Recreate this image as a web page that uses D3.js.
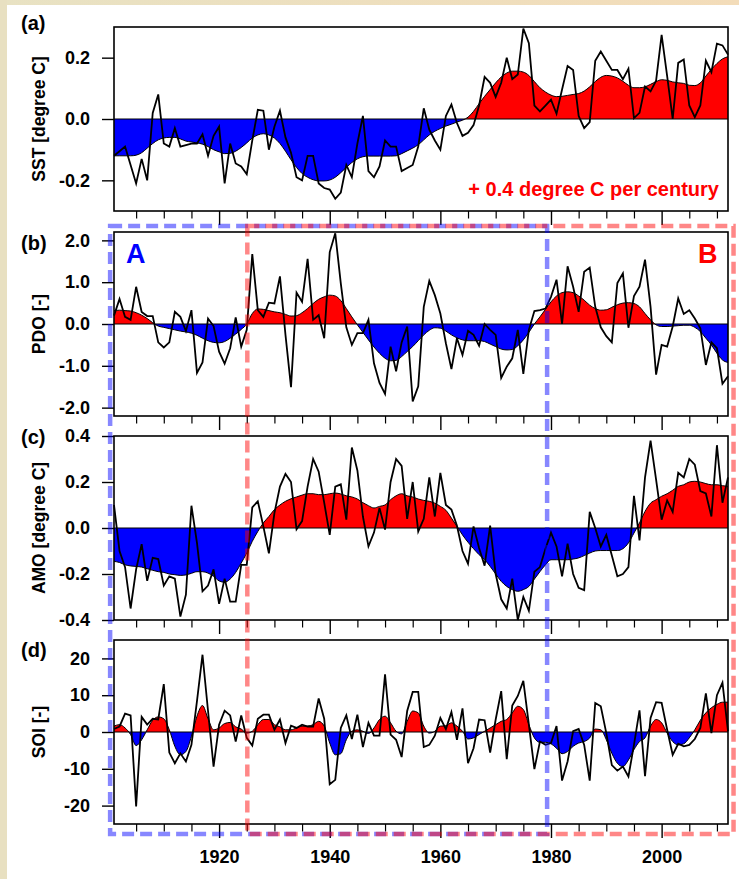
<!DOCTYPE html>
<html>
<head>
<meta charset="utf-8">
<script src="https://cdn.jsdelivr.net/npm/d3@7"></script>
<style>
  body { margin: 0; background: #fff; }
  svg text { font-family: "Liberation Sans", Arial, Helvetica, sans-serif; font-weight: bold; }
</style>
</head>
<body>
<svg id="chart" width="739" height="879"></svg>
<script>
var years = d3.range(1901, 2013);

var sstRaw = [-0.12,-0.105,-0.09,-0.15,-0.21,-0.13,-0.20,0.02,0.08,-0.08,
  -0.09,-0.03,-0.09,-0.085,-0.08,-0.08,-0.05,-0.12,-0.055,-0.025,
  -0.21,-0.08,-0.145,-0.155,-0.18,-0.07,0.03,0.027,-0.10,-0.025,
  0.027,-0.06,-0.11,-0.19,-0.20,-0.12,-0.12,-0.21,-0.225,-0.23,
  -0.26,-0.24,-0.15,-0.19,-0.08,0.01,-0.17,-0.19,-0.155,-0.07,
  -0.09,-0.09,-0.17,-0.16,-0.15,-0.09,0.035,-0.035,-0.07,-0.10,
  0.01,0.047,-0.013,-0.055,-0.045,-0.02,0.044,0.137,0.118,0.072,
  0.118,0.2,0.13,0.145,0.295,0.247,0.044,0.025,0.044,0.063,
  0.017,0.096,0.173,0.16,0.01,-0.03,-0.01,0.19,0.22,0.19,
  0.16,0.16,0.13,0.164,0.003,0.02,0.106,0.09,0.125,0.274,
  0.14,0.0,0.183,0.194,0.044,0.006,0.044,0.19,0.153,0.246,
  0.24,0.21];
var sstSmooth = [-0.12,-0.12,-0.12,-0.12,-0.118,-0.11,-0.095,-0.08,-0.068,-0.062,
  -0.06,-0.06,-0.065,-0.072,-0.075,-0.078,-0.082,-0.09,-0.1,-0.107,
  -0.113,-0.112,-0.105,-0.093,-0.078,-0.062,-0.052,-0.048,-0.052,-0.062,
  -0.08,-0.105,-0.133,-0.158,-0.178,-0.19,-0.198,-0.202,-0.202,-0.199,
  -0.19,-0.175,-0.158,-0.142,-0.13,-0.123,-0.121,-0.121,-0.121,-0.121,
  -0.121,-0.12,-0.113,-0.104,-0.095,-0.084,-0.068,-0.052,-0.04,-0.031,
  -0.023,-0.017,-0.01,-0.004,0.006,0.025,0.05,0.074,0.096,0.118,
  0.137,0.15,0.156,0.156,0.153,0.142,0.122,0.102,0.088,0.078,
  0.073,0.074,0.077,0.08,0.083,0.091,0.105,0.122,0.136,0.142,
  0.14,0.134,0.123,0.11,0.102,0.102,0.105,0.113,0.122,0.128,
  0.126,0.121,0.118,0.116,0.11,0.109,0.118,0.14,0.162,0.181,
  0.196,0.203];

var pdoRaw = [0.2,0.6,0.17,0.1,0.89,0.29,0.19,0.19,-0.44,-0.56,
  -0.44,0.29,0.17,-0.17,0.33,-1.17,-0.92,0.13,-0.05,-0.66,
  -0.95,-0.58,0.16,-0.54,-0.14,1.67,0.33,0.17,0.51,0.49,
  1.14,-0.26,-1.51,0.75,0.53,1.56,0.1,0.21,-0.34,1.72,
  2.17,0.97,-0.08,-0.5,-0.22,-0.22,0.1,-0.94,-1.41,-1.67,
  -0.54,-1.13,-0.44,-0.06,-1.85,-1.49,0.41,1.03,0.69,0.25,
  -0.46,-1.08,-0.34,-0.74,-0.16,-0.26,-0.52,0.0,-0.14,-0.26,
  -1.29,-1.02,-0.82,-0.14,-1.19,-0.14,0.31,0.33,0.37,0.65,
  1.06,0.0,1.38,0.89,0.29,1.25,1.35,0.41,-0.08,-0.29,
  -0.44,0.98,1.21,-0.09,0.67,0.89,1.54,0.41,-1.21,-0.5,
  -0.54,-0.06,0.61,0.24,0.33,0.13,-0.1,-0.98,-0.44,-0.58,
  -1.43,-1.25];
var pdoSmooth = [0.32,0.33,0.32,0.31,0.27,0.21,0.13,0.03,-0.05,-0.08,
  -0.11,-0.14,-0.17,-0.19,-0.22,-0.27,-0.34,-0.4,-0.44,-0.45,
  -0.42,-0.34,-0.24,-0.13,0.0,0.25,0.36,0.35,0.32,0.29,
  0.27,0.23,0.19,0.2,0.27,0.37,0.49,0.59,0.65,0.69,
  0.67,0.56,0.37,0.17,-0.02,-0.2,-0.38,-0.55,-0.7,-0.82,
  -0.88,-0.87,-0.78,-0.66,-0.54,-0.4,-0.26,-0.15,-0.09,-0.1,
  -0.17,-0.26,-0.33,-0.38,-0.4,-0.4,-0.4,-0.42,-0.48,-0.54,
  -0.6,-0.62,-0.61,-0.52,-0.38,-0.2,0.0,0.17,0.35,0.53,
  0.67,0.75,0.77,0.75,0.67,0.57,0.45,0.37,0.33,0.34,
  0.4,0.46,0.5,0.51,0.49,0.41,0.25,0.1,-0.02,-0.06,
  -0.06,-0.05,-0.04,-0.03,-0.03,-0.08,-0.18,-0.34,-0.5,-0.7,
  -0.86,-0.92];

var amoRaw = [0.1,-0.1,-0.17,-0.35,-0.18,-0.07,-0.23,-0.13,-0.135,-0.25,
  -0.21,-0.22,-0.385,-0.29,0.097,-0.065,-0.275,-0.25,-0.18,-0.33,
  -0.22,-0.32,-0.32,-0.16,-0.16,0.09,0.116,0.007,-0.11,0.065,
  0.18,0.235,0.2,-0.005,0.03,0.18,0.3,0.245,0.11,-0.03,
  0.18,0.19,0.036,0.35,0.25,0.05,-0.08,-0.02,0.087,-0.007,
  0.2,0.3,0.27,0.04,0.2,-0.015,0.04,0.22,0.05,0.24,
  0.1,0.08,0.01,-0.1,-0.155,0.007,-0.087,-0.164,0.01,-0.2,
  -0.31,-0.35,-0.22,-0.4,-0.3,-0.36,-0.19,-0.17,-0.09,-0.02,
  -0.08,-0.21,-0.068,-0.2,-0.26,-0.27,0.07,0.0,-0.08,-0.03,
  -0.12,-0.21,-0.2,-0.17,0.14,-0.054,0.22,0.38,0.21,0.036,
  0.12,0.07,0.24,0.22,0.3,0.275,0.16,0.15,0.05,0.36,
  0.11,0.22];
var amoSmooth = [-0.145,-0.15,-0.16,-0.165,-0.167,-0.17,-0.177,-0.184,-0.19,-0.193,
  -0.2,-0.203,-0.206,-0.204,-0.197,-0.19,-0.19,-0.196,-0.21,-0.23,
  -0.236,-0.222,-0.193,-0.152,-0.109,-0.058,-0.015,0.022,0.05,0.08,
  0.1,0.116,0.127,0.135,0.143,0.149,0.149,0.145,0.145,0.149,
  0.152,0.148,0.14,0.135,0.126,0.11,0.097,0.087,0.094,0.1,
  0.123,0.14,0.149,0.14,0.135,0.126,0.12,0.116,0.108,0.094,
  0.077,0.043,0.007,-0.03,-0.062,-0.09,-0.116,-0.138,-0.167,-0.2,
  -0.232,-0.254,-0.268,-0.275,-0.268,-0.254,-0.222,-0.19,-0.16,-0.138,
  -0.138,-0.138,-0.138,-0.135,-0.13,-0.12,-0.109,-0.1,-0.098,-0.098,
  -0.098,-0.098,-0.09,-0.065,-0.022,0.022,0.072,0.108,0.123,0.138,
  0.149,0.164,0.181,0.188,0.2,0.203,0.2,0.193,0.188,0.188,
  0.184,0.181];

var soiRaw = [0.8,1.5,5,4.5,-20.2,4.1,2,3.6,3.4,13,
  -5.6,-8.5,-5.8,-8,-3.5,8.4,21,5.7,-9.4,2,
  5.8,4.5,-2.6,4.5,-1.6,-3.7,3.6,4.7,4.7,0.6,
  3.4,-3,1.7,1.1,2,1.5,1.5,9.1,3.6,-14.2,
  -13,1.1,4.5,-1.9,4.7,-4.1,2.5,-1,-1,15.7,
  -0.7,-2.1,-6.8,5.7,10.9,10.9,-4.1,-3.5,-1,3.8,
  0.8,5.4,-2.1,6.4,-8.5,-4.4,3.4,3.2,-5.6,3.4,
  11.1,-7.4,7.2,9.8,13.9,2,-10.1,-2.6,-3.5,-3,
  1.6,-13.2,-8,0.2,0.8,-3.5,-13.2,7.9,7,-0.3,
  -9,-10.5,-9.4,-12.1,-3.5,5.9,-12,3.8,8.1,7.9,
  0.6,-6.2,-3.2,-3.9,-3.5,-1.9,1.1,10.5,-0.3,10,
  13.4,0.2];
var soiSmooth = [1.6,2,1.1,-0.7,-3.7,-2.1,0.6,3.2,4.1,3.6,
  0.6,-3.9,-6.2,-5.3,-1.2,4.3,7.2,3.6,0.6,1.1,
  2.3,2.6,1.4,0.8,-0.3,0.2,2,3.4,3.4,2,
  1.4,0.6,0.6,1.1,1.6,1.6,2,2.9,1.6,-3,
  -6.2,-5.9,-2.1,0.2,0.6,0.2,-0.4,1.1,3.4,4.3,
  2.5,0.2,-0.5,2.9,5.7,5.2,1.6,-0.3,0.2,1.6,
  1.7,2.5,1.6,0.2,-1.9,-1.6,-0.7,0.2,1.1,2,
  2.9,3.4,5.2,7,6.1,2,-1.6,-2.8,-2.8,-3.2,
  -4.4,-5.9,-5.3,-3.9,-3,-2.6,-1.6,0.8,0.6,-2.1,
  -5.8,-8.5,-9.4,-7.6,-4.8,-2.6,-1.6,1.6,3.4,2.5,
  -0.3,-2.6,-3.5,-3.2,-1.6,0.6,3.2,5.2,6.6,7.5,
  8.1,8.1];

var panelLabels = ["(a)", "(b)", "(c)", "(d)"];
var yTitles = ["SST [degree C]", "PDO [-]", "AMO [degree C]", "SOI [-]"];
var yDomains = [[-0.3, 0.3], [-2.2, 2.2], [-0.4, 0.4], [-25, 25]];
var yTickValues = [[-0.2, 0, 0.2], [-2, -1, 0, 1, 2], [-0.4, -0.2, 0, 0.2, 0.4], [-20, -10, 0, 10, 20]];
var yTickDigits = [1, 1, 1, 0];
var majorYears = [1920, 1940, 1960, 1980, 2000];
var minorYears = d3.range(1905, 2013, 5);
var periodA = [1900.3, 1979.3];
var periodB = [1925.1, 2013];
var trendText = "+ 0.4 degree C per century";

var panels = [
  { raw: sstRaw, smooth: sstSmooth },
  { raw: pdoRaw, smooth: pdoSmooth },
  { raw: amoRaw, smooth: amoSmooth },
  { raw: soiRaw, smooth: soiSmooth }
];

var svg = d3.select("#chart"),
  W = +svg.attr("width"), H = +svg.attr("height");

var left = 114, right = 728, panelH = 184,
  tops = [27, 232, 436, 640];

// page edge bands
var defs = svg.append("defs");
var grad = defs.append("linearGradient").attr("id", "band").attr("x1", "0").attr("x2", "1");
grad.append("stop").attr("offset", "0").attr("stop-color", "#e8e2c3");
grad.append("stop").attr("offset", "1").attr("stop-color", "#f3dcb9");
svg.append("rect").attr("x", 0).attr("y", 0).attr("width", W).attr("height", 5).attr("fill", "url(#band)");
svg.append("rect").attr("x", 0).attr("y", 0).attr("width", 7).attr("height", H).attr("fill", "#e8e0c1");

var x = d3.scaleLinear().domain([1901, 2012]).range([left, right]);

panels.forEach(function (p, i) {
  var top = tops[i], bottom = top + panelH;
  var y = d3.scaleLinear().domain(yDomains[i]).range([bottom, top]);
  var g = svg.append("g");
  var y0 = y(0);

  defs.append("clipPath").attr("id", "pos" + i)
    .append("rect").attr("x", left).attr("y", top).attr("width", right - left).attr("height", y0 - top);
  defs.append("clipPath").attr("id", "neg" + i)
    .append("rect").attr("x", left).attr("y", y0).attr("width", right - left).attr("height", bottom - y0);

  var area = d3.area()
    .x(function (d, k) { return x(years[k]); })
    .y0(y0)
    .y1(function (d) { return y(d); })
    .curve(d3.curveMonotoneX);
  var smoothLine = d3.line()
    .x(function (d, k) { return x(years[k]); })
    .y(function (d) { return y(d); })
    .curve(d3.curveMonotoneX);
  var rawLine = d3.line()
    .x(function (d, k) { return x(years[k]); })
    .y(function (d) { return y(d); });

  g.append("path").datum(p.smooth).attr("d", area)
    .attr("fill", "#ff0000").attr("clip-path", "url(#pos" + i + ")");
  g.append("path").datum(p.smooth).attr("d", area)
    .attr("fill", "#0000ff").attr("clip-path", "url(#neg" + i + ")");
  g.append("path").datum(p.smooth).attr("d", smoothLine)
    .attr("fill", "none").attr("stroke", "#000").attr("stroke-width", 1);
  g.append("line").attr("x1", left).attr("x2", right).attr("y1", y0).attr("y2", y0)
    .attr("stroke", "#000").attr("stroke-width", 1);
  g.append("path").datum(p.raw).attr("d", rawLine)
    .attr("fill", "none").attr("stroke", "#000").attr("stroke-width", 1.8)
    .attr("stroke-linejoin", "miter");

  // frame
  g.append("rect").attr("x", left).attr("y", top).attr("width", right - left).attr("height", panelH)
    .attr("fill", "none").attr("stroke", "#000").attr("stroke-width", 1.6);

  // y axis
  var fmt = function (d) { return d.toFixed(yTickDigits[i]); };
  var yAxis = g.append("g").attr("transform", "translate(" + left + ",0)")
    .call(d3.axisLeft(y).tickValues(yTickValues[i]).tickFormat(fmt).tickSize(12).tickPadding(12));
  yAxis.select(".domain").remove();
  yAxis.selectAll("line").attr("stroke-width", 1.4);
  yAxis.selectAll("text").attr("font-size", 18).attr("fill", "#000")
    .style("font-family", "'Liberation Sans', Arial, sans-serif").style("font-weight", "bold");

  // x axis ticks (labels only on bottom panel)
  var xMajor = g.append("g").attr("transform", "translate(0," + bottom + ")")
    .call(d3.axisBottom(x).tickValues(majorYears).tickSize(14).tickPadding(12)
      .tickFormat(i === 3 ? d3.format("d") : function () { return ""; }));
  xMajor.select(".domain").remove();
  xMajor.selectAll("line").attr("stroke-width", 1.4);
  xMajor.selectAll("text").attr("font-size", 18).attr("fill", "#000")
    .style("font-family", "'Liberation Sans', Arial, sans-serif").style("font-weight", "bold");
  var xMinor = g.append("g").attr("transform", "translate(0," + bottom + ")")
    .call(d3.axisBottom(x).tickValues(minorYears.filter(function (v) { return majorYears.indexOf(v) < 0; }))
      .tickSize(7.5).tickFormat(function () { return ""; }));
  xMinor.select(".domain").remove();
  xMinor.selectAll("line").attr("stroke-width", 1.2);

  // titles
  svg.append("text").attr("transform", "translate(45," + (top + panelH / 2) + ") rotate(-90)")
    .attr("text-anchor", "middle").attr("font-size", 17.5).text(yTitles[i]);
});

// panel letters
var letterY = [30, 250, 444, 657];
panelLabels.forEach(function (t, i) {
  svg.append("text").attr("x", 21).attr("y", letterY[i]).attr("font-size", 20).text(t);
});

// trend note
svg.append("text").attr("x", 719).attr("y", 196).attr("text-anchor", "end")
  .attr("font-size", 20).attr("fill", "#ff0000").text(trendText);

// period boxes
var boxTop = 226, boxBottom = 834;
[[periodA, "rgba(0,0,255,0.47)"], [periodB, "rgba(255,0,0,0.47)"]].forEach(function (b) {
  svg.append("rect")
    .attr("x", x(b[0][0])).attr("y", boxTop)
    .attr("width", x(b[0][1]) - x(b[0][0])).attr("height", boxBottom - boxTop)
    .attr("fill", "none").attr("stroke", b[1]).attr("stroke-width", 4.5)
    .attr("stroke-dasharray", "12,6");
});

svg.append("text").attr("x", 126).attr("y", 263).attr("font-size", 27).attr("fill", "#0000ff").text("A");
svg.append("text").attr("x", 698).attr("y", 263).attr("font-size", 27).attr("fill", "#ff0000").text("B");
</script>
</body>
</html>
